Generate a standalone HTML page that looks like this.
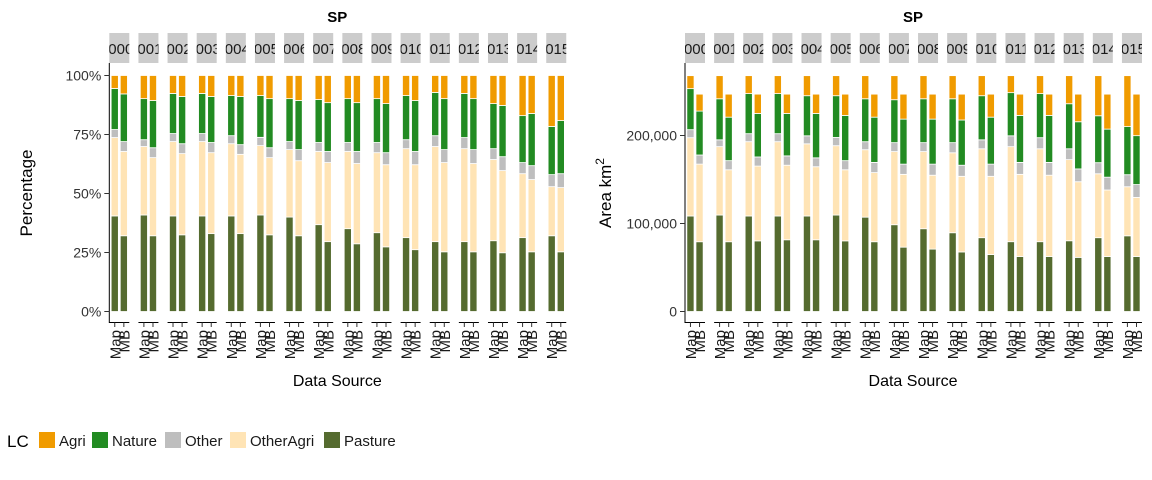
<!DOCTYPE html>
<html><head><meta charset="utf-8"><style>
body{margin:0;background:#fff;}
svg{display:block;font-family:"Liberation Sans",Arial,sans-serif;}
</style></head><body>
<svg id="chart" width="1152" height="480" viewBox="0 0 1152 480" xmlns="http://www.w3.org/2000/svg">
<g id="root"></g>
</svg>
<script>
const years = ['2000','2001','2002','2003','2004','2005','2006','2007','2008','2009','2010','2011','2012','2013','2014','2015'];
const sources = ['Map','MB'];
const lcNames = ['Pasture','OtherAgri','Other','Nature','Agri'];
const lcColors = {Pasture:'#556B2F',OtherAgri:'#FFE4B5',Other:'#BEBEBE',Nature:'#228B22',Agri:'#F09B00'};
const mapPasture = [40.5,40.9,40.5,40.5,40.5,40.9,40.0,36.8,35.1,33.4,31.3,29.6,29.6,30.0,31.3,32.1];
const mapOtherAgriTop = [73.7,69.9,72.0,72.0,71.1,70.3,68.6,67.8,67.8,67.3,69.0,69.9,69.0,64.4,58.4,52.9];
const mapOtherTop = [77.1,72.8,75.4,75.4,74.5,73.8,72.0,71.6,71.6,71.6,72.8,74.5,73.7,69.0,63.1,58.0];
const mapNatureTop = [94.5,90.2,92.4,92.4,91.5,91.5,90.2,89.8,90.2,90.2,91.5,92.8,92.4,88.1,83.0,78.4];
const mbPasture = [32.1,32.1,32.5,33.0,33.0,32.5,32.1,29.6,28.7,27.4,26.2,25.3,25.3,24.9,25.3,25.3];
const mbOtherAgriTop = [67.8,65.2,66.9,67.3,66.6,65.2,63.9,63.1,62.7,62.2,62.2,63.1,62.7,59.7,55.9,52.5];
const mbOtherTop = [72.0,69.4,71.1,71.6,70.7,69.4,68.6,67.8,67.8,67.3,67.8,68.6,68.6,65.6,61.8,58.4];
const mbNatureTop = [92.2,89.4,91.1,91.1,91.1,90.2,89.4,88.5,88.5,88.1,89.4,90.2,90.2,87.3,83.9,80.9];
const totalsKm2 = [268000,247000];
const pctTicks = [0,25,50,75,100];
const pctTickLabels = ['0%','25%','50%','75%','100%'];
const areaTicks = [0,100000,200000];
const areaTickLabels = ['0','100,000','200,000'];

const NS='http://www.w3.org/2000/svg';
const root=document.getElementById('root');
function mk(tag,attrs,parent,txt){const e=document.createElementNS(NS,tag);for(const k in attrs)e.setAttribute(k,attrs[k]);if(txt!==undefined)e.textContent=txt;(parent||root).appendChild(e);return e;}

const Y0=311.5;
const yPct=v=>Y0-v/100*236;
const yArea=v=>Y0-v/100000*88;
const facetStep=29.13, facetW=20;

function drawPanel(px, isPct, pname){
  const g=mk('g',{});
  
  
  const yf=isPct?yPct:yArea;
  const t=mk('text',{x:px+228,y:22,'text-anchor':'middle','font-size':15,'font-weight':'bold',fill:'#000'},g,'SP');
  
  
  const ax=mk('line',{x1:px,x2:px,y1:63,y2:323,stroke:'#000','stroke-width':1},g);
  
  
  const tv=isPct?pctTicks:areaTicks, tl=isPct?pctTickLabels:areaTickLabels;
  tv.forEach((v,i)=>{
    const yy=yf(v);
    mk('line',{x1:px-5,x2:px,y1:yy,y2:yy,stroke:'#333'},g);
    const lb=mk('text',{x:px-8,y:yy+5,'text-anchor':'end','font-size':14,fill:'#333'},g,tl[i]);
    
    
  });
  years.forEach((yr,fi)=>{
    const fx=px+fi*facetStep;
    const cid=pname+'clip'+fi;
    const cp=mk('clipPath',{id:cid},g);mk('rect',{x:fx,y:33,width:facetW,height:30},cp);
    const st=mk('rect',{x:fx,y:33,width:facetW,height:30,fill:'#CCCCCC'},g);
    
    
    const stt=mk('text',{x:fx+24,y:54,'text-anchor':'end','font-size':15,fill:'#1a1a1a','clip-path':'url(#'+cid+')'},g,yr);
    
    
    mk('line',{x1:fx,x2:fx+facetW,y1:322.5,y2:322.5,stroke:'#000'},g);
    const u=facetW/2.2;
    sources.forEach((s,si)=>{
      const cx=fx+u*(0.6+si);
      const arrs=si===0?[mapPasture,mapOtherAgriTop,mapOtherTop,mapNatureTop]:[mbPasture,mbOtherAgriTop,mbOtherTop,mbNatureTop];
      const tops=[arrs[0][fi],arrs[1][fi],arrs[2][fi],arrs[3][fi],100];
      const scale=isPct?1:totalsKm2[si]/100;
      let prev=0;
      tops.forEach((tp,li)=>{
        const y1=yf(tp*scale), y2=yf(prev*scale);
        const r=mk('rect',{x:cx-3.6,y:y1,width:7.2,height:Math.max(0,y2-y1),fill:lcColors[lcNames[li]],stroke:'#fff','stroke-width':0.8},g);
        
        
        prev=tp;
      });
      mk('line',{x1:cx,x2:cx,y1:322.5,y2:327,stroke:'#333'},g);
      const xl=mk('text',{x:0,y:0,'text-anchor':'end','font-size':15,fill:'#1a1a1a',transform:'translate('+(cx+5.5)+',330) rotate(-90)'},g,s);
      
      
    });
  });
  const xt=mk('text',{x:px+228,y:386,'text-anchor':'middle','font-size':16,fill:'#000'},g,'Data Source');
  
  
}
drawPanel(109.3,true,'percentage');
drawPanel(685,false,'area');

let yt=mk('text',{x:0,y:0,'text-anchor':'middle','font-size':17,fill:'#000',transform:'translate(32,193) rotate(-90)'},root,'Percentage');


yt=mk('text',{x:0,y:0,'text-anchor':'middle','font-size':17,fill:'#000',transform:'translate(611,193) rotate(-90)'});


yt.textContent='Area km';
mk('tspan',{'font-size':12,dy:-7},yt,'2');

const lg=mk('g',{});


mk('text',{x:7,y:447,'font-size':17,fill:'#000'},lg,'LC');
const legItems=['Agri','Nature','Other','OtherAgri','Pasture'];
const legX=[39,92,165,230,324];
legItems.forEach((n,i)=>{
  const e=mk('g',{},lg);
  
  
  mk('rect',{x:legX[i],y:432,width:16,height:16,fill:lcColors[n]},e);
  mk('text',{x:legX[i]+20,y:446,'font-size':15,fill:'#1a1a1a'},e,n);
});
</script>
</body></html>
